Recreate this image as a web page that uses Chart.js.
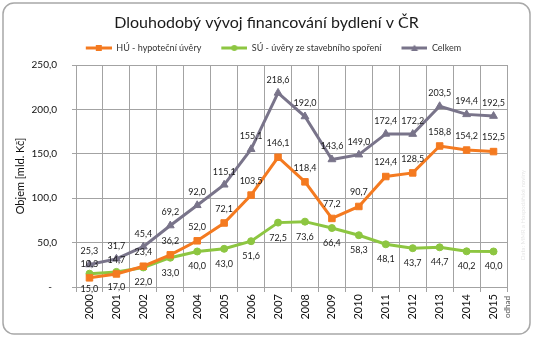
<!DOCTYPE html>
<html><head><meta charset="utf-8">
<script src="https://cdn.jsdelivr.net/npm/chart.js@4/dist/chart.umd.min.js"></script>
<style>html,body{margin:0;padding:0;background:#fff}#wrap{width:533px;height:338px}</style>
</head><body><div id="wrap"><canvas id="c" width="533" height="338"></canvas></div>
<script>
const years = ['2000','2001','2002','2003','2004','2005','2006','2007','2008','2009','2010','2011','2012','2013','2014','2015'];
const huValues = [10.3,14.7,23.4,36.2,52.0,72.1,103.5,146.1,118.4,77.2,90.7,124.4,128.5,158.8,154.2,152.5];
const suValues = [15.0,17.0,22.0,33.0,40.0,43.0,51.6,72.5,73.6,66.4,58.3,48.1,43.7,44.7,40.2,40.0];
const totalValues = [25.3,31.7,45.4,69.2,92.0,115.1,155.1,218.6,192.0,143.6,149.0,172.4,172.2,203.5,194.4,192.5];
const seriesNames = ['HÚ - hypoteční úvěry','SÚ - úvěry ze stavebního spoření','Celkem'];
const yTicks = [0,50,100,150,200,250];

const ORANGE='#F47A20', GREEN='#8DC641', GREY='#79748A';
const FONT='Lato';
const GRID='#a3a3a3';

function fmt(v){ return v.toFixed(1).replace('.', ','); }

function legendImg(color, style){
  const c=document.createElement('canvas'); c.width=40; c.height=10;
  const g=c.getContext('2d');
  g.strokeStyle=color; g.lineWidth=3; g.beginPath(); g.moveTo(14,5); g.lineTo(40,5); g.stroke();
  g.fillStyle=color; g.beginPath();
  if(style==='rect'){ g.rect(24,2,6,6); }
  else if(style==='circle'){ g.arc(27,5,3,0,Math.PI*2); }
  else { g.moveTo(27,1.5); g.lineTo(30.5,8); g.lineTo(23.5,8); g.closePath(); }
  g.fill();
  return c;
}
const legendStyles=[legendImg(ORANGE,'rect'),legendImg(GREEN,'circle'),legendImg(GREY,'triangle')];

const labelOffsets=[-14,15,-13];

const decor={
  id:'decor',
  beforeLayout(chart){
    const lg=chart.legend;
    if(lg && !lg._patched){
      const f=lg.fit;
      lg.fit=function(){ f.call(this); this.height=27.5; };
      lg._patched=true;
    }
  },
  beforeDraw(chart){
    const ctx=chart.ctx;
    ctx.save();
    ctx.fillStyle='#fff'; ctx.fillRect(0,0,chart.width,chart.height);
    ctx.strokeStyle='#a8a8a8'; ctx.lineWidth=1.5;
    ctx.beginPath(); ctx.roundRect(3,3,527,331,11); ctx.stroke();
    ctx.restore();
  },
  afterDatasetsDraw(chart){
    const ctx=chart.ctx;
    ctx.save();
    ctx.font='9px '+FONT; ctx.fillStyle='#1a1a1a';
    ctx.textAlign='center'; ctx.textBaseline='middle';
    chart.data.datasets.forEach((ds,di)=>{
      const meta=chart.getDatasetMeta(di);
      meta.data.forEach((pt,i)=>{
        ctx.fillText(fmt(ds.data[i]), pt.x, pt.y+labelOffsets[di]);
      });
    });
    // "odhad" note
    ctx.save();
    ctx.translate(507,296); ctx.rotate(-Math.PI/2);
    ctx.font='8px '+FONT; ctx.fillStyle='#555'; ctx.textAlign='right'; ctx.textBaseline='middle';
    ctx.fillText('odhad',0,0);
    ctx.restore();
    // faint source watermark
    ctx.save();
    ctx.translate(523,215); ctx.rotate(-Math.PI/2);
    ctx.font='6px '+FONT; ctx.fillStyle='#e6e6e6'; ctx.textAlign='center'; ctx.textBaseline='middle';
    ctx.fillText('Data: MMR a Hospodářské noviny',0,0);
    ctx.restore();
    ctx.restore();
  }
};

new Chart(document.getElementById('c'),{
  type:'line',
  data:{
    labels:years,
    datasets:[
      {label:seriesNames[0],data:huValues,borderColor:ORANGE,backgroundColor:ORANGE,borderWidth:3,pointStyle:'rect',pointRadius:4.6,pointBorderWidth:1,tension:0},
      {label:seriesNames[1],data:suValues,borderColor:GREEN,backgroundColor:GREEN,borderWidth:3,pointStyle:'circle',pointRadius:3.5,pointBorderWidth:1,tension:0},
      {label:seriesNames[2],data:totalValues,borderColor:GREY,backgroundColor:GREY,borderWidth:3,pointStyle:'triangle',pointRadius:4.5,pointBorderWidth:1,tension:0}
    ]
  },
  options:{
    responsive:false,
    animation:false,
    devicePixelRatio:1,
    layout:{padding:{left:0,right:0,top:0,bottom:0}},
    plugins:{
      tooltip:{enabled:false},
      title:{display:true,text:'Dlouhodobý vývoj financování bydlení v ČR',color:'#1a1a1a',
        font:{family:FONT,size:16,weight:'normal'},padding:{top:13,bottom:5.3}},
      legend:{display:true,position:'top',
        labels:{usePointStyle:true,pointStyleWidth:40,padding:6,color:'#333',font:{family:FONT,size:9},
          generateLabels(chart){
            const items=Chart.defaults.plugins.legend.labels.generateLabels(chart);
            items.forEach((it,i)=>{ it.pointStyle=legendStyles[i]; });
            return items;
          }}}
    },
    scales:{
      x:{
        offset:true,
        grid:{offset:true,color:GRID,tickLength:5,lineWidth:1},
        border:{color:GRID},
        ticks:{autoSkip:false,maxRotation:90,minRotation:90,padding:2,color:'#111',font:{family:FONT,size:11}},
        afterFit(s){ s.height=51; }
      },
      y:{
        min:0,max:250,
        afterBuildTicks(s){ s.ticks=yTicks.map(v=>({value:v})); },
        grid:{color:GRID,tickLength:4},
        border:{color:GRID},
        ticks:{padding:15,color:'#111',font:{family:FONT,size:10},callback:(v)=> v===0?'-  ':fmt(v)},
        title:{display:true,text:'Objem [mld. Kč]',color:'#111',font:{family:FONT,size:11},padding:{top:13.4,bottom:0}},
        afterFit(s){ s.width=76; }
      },
      yR:{
        position:'right',display:true,
        grid:{display:false},border:{display:false},ticks:{display:false},
        afterFit(s){ s.width=26; }
      }
    }
  },
  plugins:[decor]
});
</script>
</body></html>
